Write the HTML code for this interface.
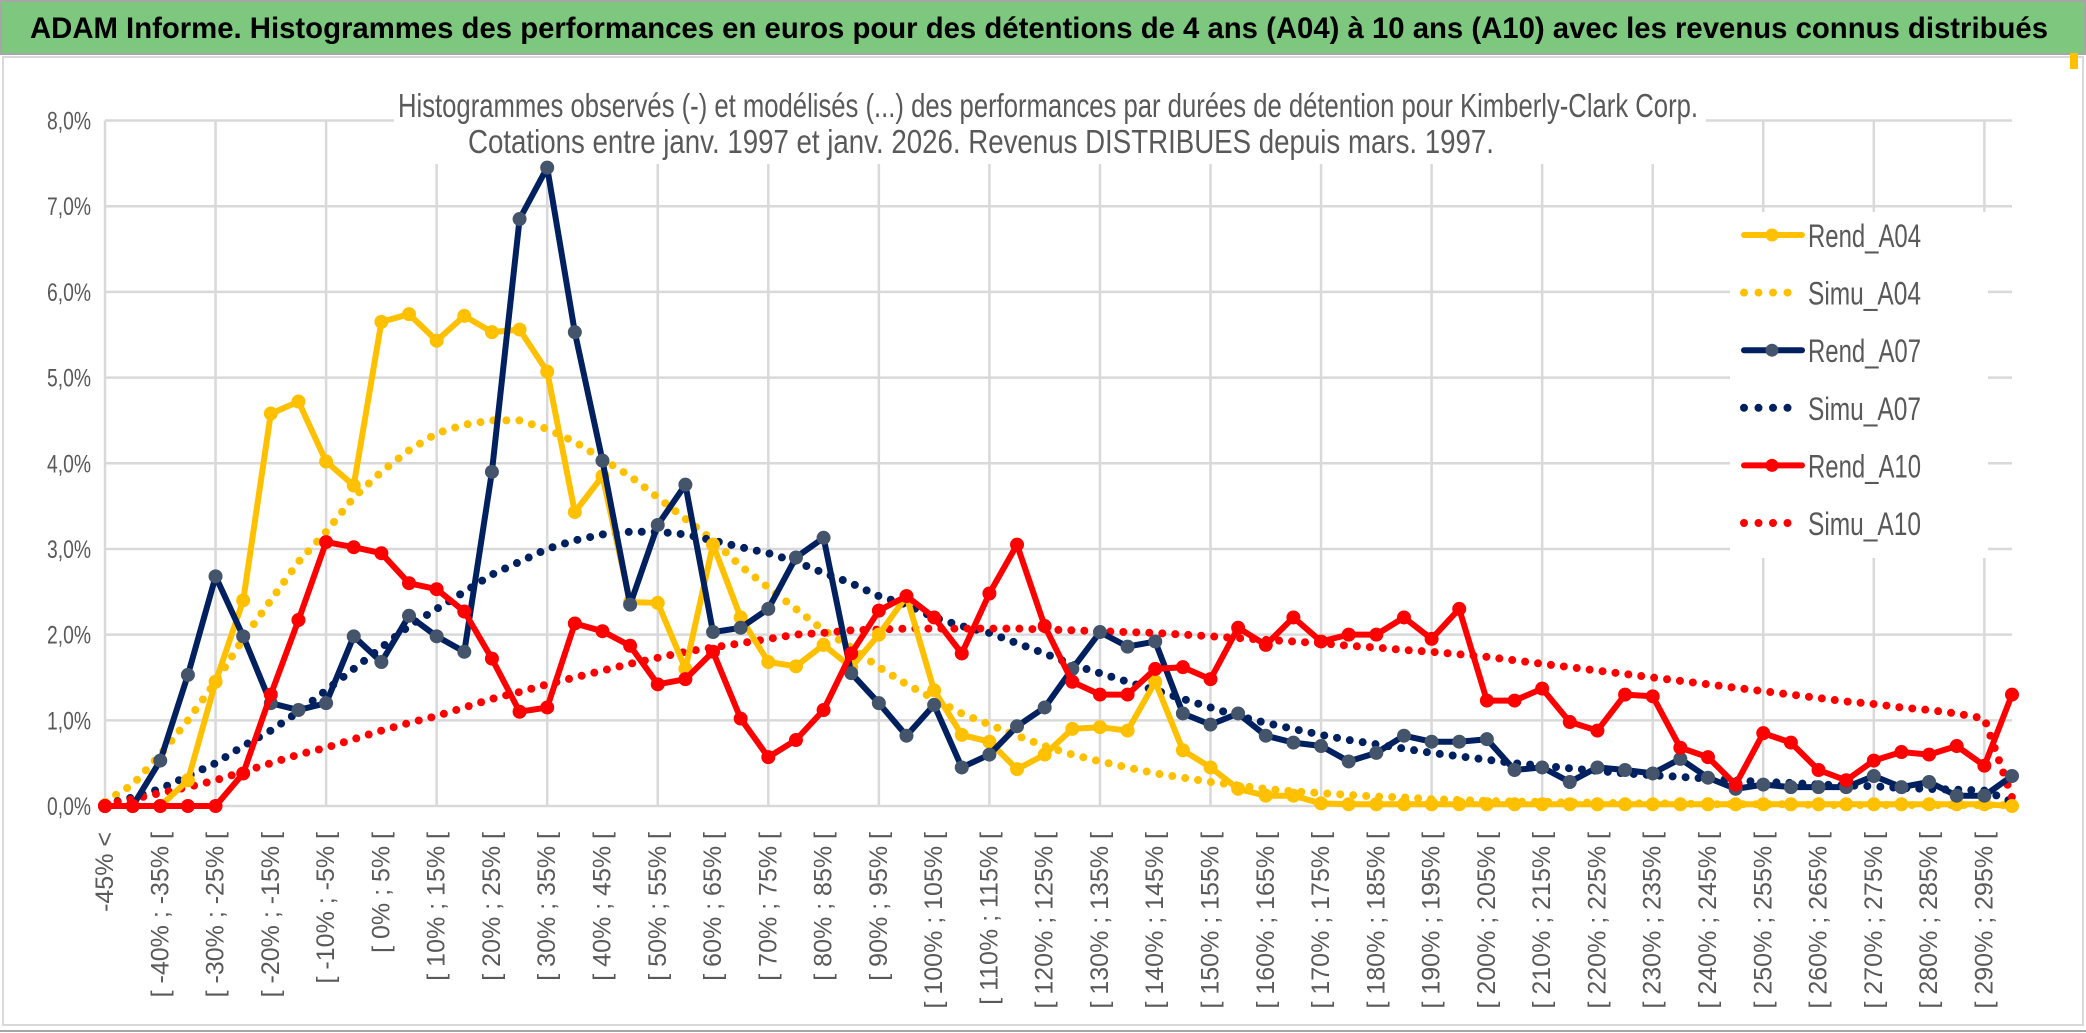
<!DOCTYPE html>
<html><head><meta charset="utf-8"><style>
html,body{margin:0;padding:0;background:#fff;}
svg{display:block;font-family:"Liberation Sans",sans-serif;}
</style></head><body>
<svg id="chart" width="2086" height="1033" viewBox="0 0 2086 1033">
<rect x="0" y="0" width="2086" height="1033" fill="#fff"/>
<rect x="1" y="1" width="2084" height="53" fill="#7dc77e" stroke="#a6a6a6" stroke-width="2"/>
<text x="30" y="38" font-size="30" font-weight="bold" fill="#000" textLength="2018" lengthAdjust="spacingAndGlyphs">ADAM Informe. Histogrammes des performances en euros pour des détentions de 4 ans (A04) à 10 ans (A10) avec les revenus connus distribués</text>
<rect x="3" y="57" width="2080" height="968" fill="none" stroke="#d9d9d9" stroke-width="2"/>
<line x1="0" y1="1031" x2="2086" y2="1031" stroke="#a6a6a6" stroke-width="2"/>
<rect x="2070" y="53" width="8" height="16" fill="#ffc000"/>
<g id="grid"></g>
<rect x="394" y="70" width="1312" height="94" fill="#fff"/>
<text x="1048" y="117" font-size="33" fill="#595959" text-anchor="middle" textLength="1300" lengthAdjust="spacingAndGlyphs">Histogrammes observés (-) et modélisés (...) des performances par durées de détention pour Kimberly-Clark Corp.</text>
<text x="981" y="153" font-size="33" fill="#595959" text-anchor="middle" textLength="1026" lengthAdjust="spacingAndGlyphs">Cotations entre janv. 1997 et janv. 2026. Revenus DISTRIBUES depuis mars. 1997.</text>
<g id="ylabels"></g>
<g id="xlabels"></g>
<g id="series"></g>
<rect x="1730" y="212" width="258" height="346" fill="#fff"/>
<g id="legend"></g>
</svg>
<script>
const categories = (function(){const c=["-45% <"];for(let v=-45;v<300;v+=5){c.push("[ "+v+"% ; "+(v+5)+"% [");}return c;})();
const yTicks = [0,1,2,3,4,5,6,7,8];
const rendA04 = [0,0,0,0.3,1.45,2.4,4.58,4.72,4.02,3.74,5.65,5.74,5.43,5.72,5.53,5.56,5.07,3.43,3.85,2.38,2.37,1.6,3.05,2.2,1.68,1.63,1.88,1.62,2.0,2.45,1.35,0.83,0.75,0.43,0.6,0.9,0.92,0.88,1.45,0.65,0.45,0.2,0.12,0.12,0.03,0.02,0.02,0.02,0.02,0.02,0.02,0.02,0.02,0.02,0.02,0.02,0.02,0.02,0.02,0.02,0.02,0.02,0.02,0.02,0.02,0.02,0.02,0.02,0.02,0];
const simuA04 = [0.05,0.25,0.6,1.0,1.45,1.95,2.4,2.85,3.2,3.6,3.9,4.15,4.35,4.45,4.5,4.5,4.4,4.25,4.05,3.85,3.6,3.35,3.1,2.8,2.55,2.3,2.05,1.85,1.62,1.42,1.25,1.08,0.95,0.82,0.7,0.6,0.52,0.45,0.38,0.33,0.28,0.24,0.2,0.17,0.15,0.13,0.11,0.1,0.08,0.07,0.06,0.05,0.05,0.04,0.04,0.03,0.03,0.03,0.02,0.02,0.02,0.02,0.01,0.01,0.01,0.01,0.01,0.01,0.01,0.01];
const rendA07 = [0,0,0.53,1.53,2.68,1.98,1.2,1.12,1.2,1.98,1.68,2.22,1.98,1.8,3.9,6.85,7.45,5.53,4.03,2.35,3.28,3.75,2.03,2.08,2.3,2.9,3.13,1.55,1.2,0.82,1.18,0.45,0.6,0.93,1.15,1.6,2.03,1.86,1.92,1.08,0.95,1.08,0.82,0.74,0.7,0.52,0.62,0.82,0.75,0.75,0.78,0.42,0.45,0.28,0.45,0.42,0.38,0.55,0.33,0.2,0.25,0.22,0.22,0.22,0.35,0.22,0.28,0.12,0.12,0.35];
const simuA07 = [0.02,0.1,0.2,0.35,0.5,0.7,0.88,1.1,1.35,1.6,1.85,2.1,2.3,2.5,2.7,2.85,3.0,3.1,3.17,3.2,3.2,3.17,3.1,3.02,2.95,2.85,2.72,2.6,2.45,2.35,2.2,2.1,2.02,1.9,1.78,1.65,1.55,1.45,1.35,1.25,1.15,1.05,0.97,0.9,0.83,0.77,0.72,0.67,0.62,0.58,0.54,0.5,0.47,0.44,0.41,0.38,0.36,0.34,0.32,0.3,0.28,0.27,0.25,0.24,0.23,0.21,0.2,0.19,0.18,0.05];
const rendA10 = [0,0,0,0,0,0.38,1.3,2.17,3.08,3.02,2.95,2.6,2.53,2.27,1.72,1.1,1.15,2.13,2.04,1.87,1.42,1.48,1.8,1.02,0.57,0.77,1.12,1.78,2.28,2.45,2.2,1.78,2.48,3.05,2.1,1.45,1.3,1.3,1.6,1.62,1.48,2.08,1.88,2.2,1.92,2.0,2.0,2.2,1.95,2.3,1.23,1.23,1.37,0.98,0.88,1.3,1.28,0.68,0.57,0.25,0.85,0.74,0.42,0.3,0.53,0.63,0.6,0.7,0.47,1.3];
const simuA10 = [0.02,0.08,0.15,0.22,0.3,0.4,0.5,0.6,0.68,0.78,0.88,0.97,1.05,1.15,1.25,1.33,1.42,1.5,1.58,1.66,1.73,1.8,1.85,1.9,1.95,2.0,2.02,2.05,2.06,2.07,2.07,2.07,2.07,2.07,2.06,2.05,2.04,2.03,2.02,2.0,1.98,1.96,1.94,1.92,1.9,1.87,1.85,1.82,1.8,1.77,1.74,1.7,1.66,1.62,1.58,1.54,1.5,1.46,1.42,1.38,1.34,1.3,1.26,1.22,1.19,1.15,1.12,1.08,1.02,0.1];
const seriesNames = ["Rend_A04","Simu_A04","Rend_A07","Simu_A07","Rend_A10","Simu_A10"];

const NS="http://www.w3.org/2000/svg";
const X0=105, X1=2012, Y0=806, Y8=120.5;
const n=categories.length;
function xs(i){return X0+i*(X1-X0)/(n-1);}
function ys(v){return Y0-(v/8)*(Y0-Y8);}
function mk(tag,attrs,parent){const e=document.createElementNS(NS,tag);for(const k in attrs)e.setAttribute(k,attrs[k]);parent.appendChild(e);return e;}

const grid=document.getElementById('grid');
yTicks.forEach(t=>{
  const l=mk('line',{x1:X0,x2:X1,y1:ys(t),y2:ys(t),stroke:'#d9d9d9','stroke-width':2.5},grid);
  
  
});
for(let i=0;i<n;i+=4){
  const l=mk('line',{x1:xs(i),x2:xs(i),y1:Y8,y2:Y0,stroke:'#d9d9d9','stroke-width':2.5},grid);
  
  
}
const yl=document.getElementById('ylabels');
yTicks.forEach(t=>{
  const tx=mk('text',{x:91,y:ys(t)+9,'font-size':25,fill:'#595959','text-anchor':'end',textLength:44,lengthAdjust:'spacingAndGlyphs'},yl);
  tx.textContent=t.toFixed(1).replace('.',',')+'%';
  
  
});
const xl=document.getElementById('xlabels');
categories.forEach((c,i)=>{
  if(i%2)return;
  const x=xs(i)+8, y=832;
  const tx=mk('text',{x:x,y:y,'font-size':25,fill:'#595959','text-anchor':'end',transform:'rotate(-90 '+x+' '+y+')'},xl);
  tx.textContent=c;
  
  
});
const sg=document.getElementById('series');
function pts(arr){return arr.map((v,i)=>xs(i).toFixed(1)+','+ys(v).toFixed(1)).join(' ');}
function dotted(arr,color,name){
  const p=mk('polyline',{points:pts(arr),fill:'none',stroke:color,'stroke-width':8,'stroke-linecap':'round','stroke-dasharray':'0 13'},sg);
  
  
}
function solid(arr,color,marker,name){
  const g=mk('g',{},sg);
  
  
  mk('polyline',{points:pts(arr),fill:'none',stroke:color,'stroke-width':6,'stroke-linejoin':'round','stroke-linecap':'round'},g);
  arr.forEach((v,i)=>{
    const c=mk('circle',{cx:xs(i),cy:ys(v),r:6.5,fill:marker,stroke:marker,'stroke-width':1},g);
    
    
  });
}
dotted(simuA04,'#ffc000','simu-a04-line');
dotted(simuA07,'#002060','simu-a07-line');
dotted(simuA10,'#ff0000','simu-a10-line');
solid(rendA04,'#ffc000','#ffc000','rend-a04-line');
solid(rendA07,'#002060','#44546a','rend-a07-line');
solid(rendA10,'#ff0000','#ff0000','rend-a10-line');

const lg=document.getElementById('legend');
const legColors=['#ffc000','#ffc000','#002060','#002060','#ff0000','#ff0000'];
const legMarker=['#ffc000',null,'#44546a',null,'#ff0000',null];
seriesNames.forEach((s,i)=>{
  const y=235+i*57.6;
  const g=mk('g',{},lg);
  
  
  if(legMarker[i]){
    mk('line',{x1:1744,x2:1802,y1:y,y2:y,stroke:legColors[i],'stroke-width':6,'stroke-linecap':'round'},g);
    mk('circle',{cx:1772,cy:y,r:6.5,fill:legMarker[i]},g);
  } else {
    mk('line',{x1:1744,x2:1800,y1:y,y2:y,stroke:legColors[i],'stroke-width':8,'stroke-linecap':'round','stroke-dasharray':'0 14.5'},g);
  }
  const t=mk('text',{x:1808,y:y+12,'font-size':32,fill:'#595959',textLength:113,lengthAdjust:'spacingAndGlyphs'},g);
  t.textContent=s;
});
</script>
</body></html>
